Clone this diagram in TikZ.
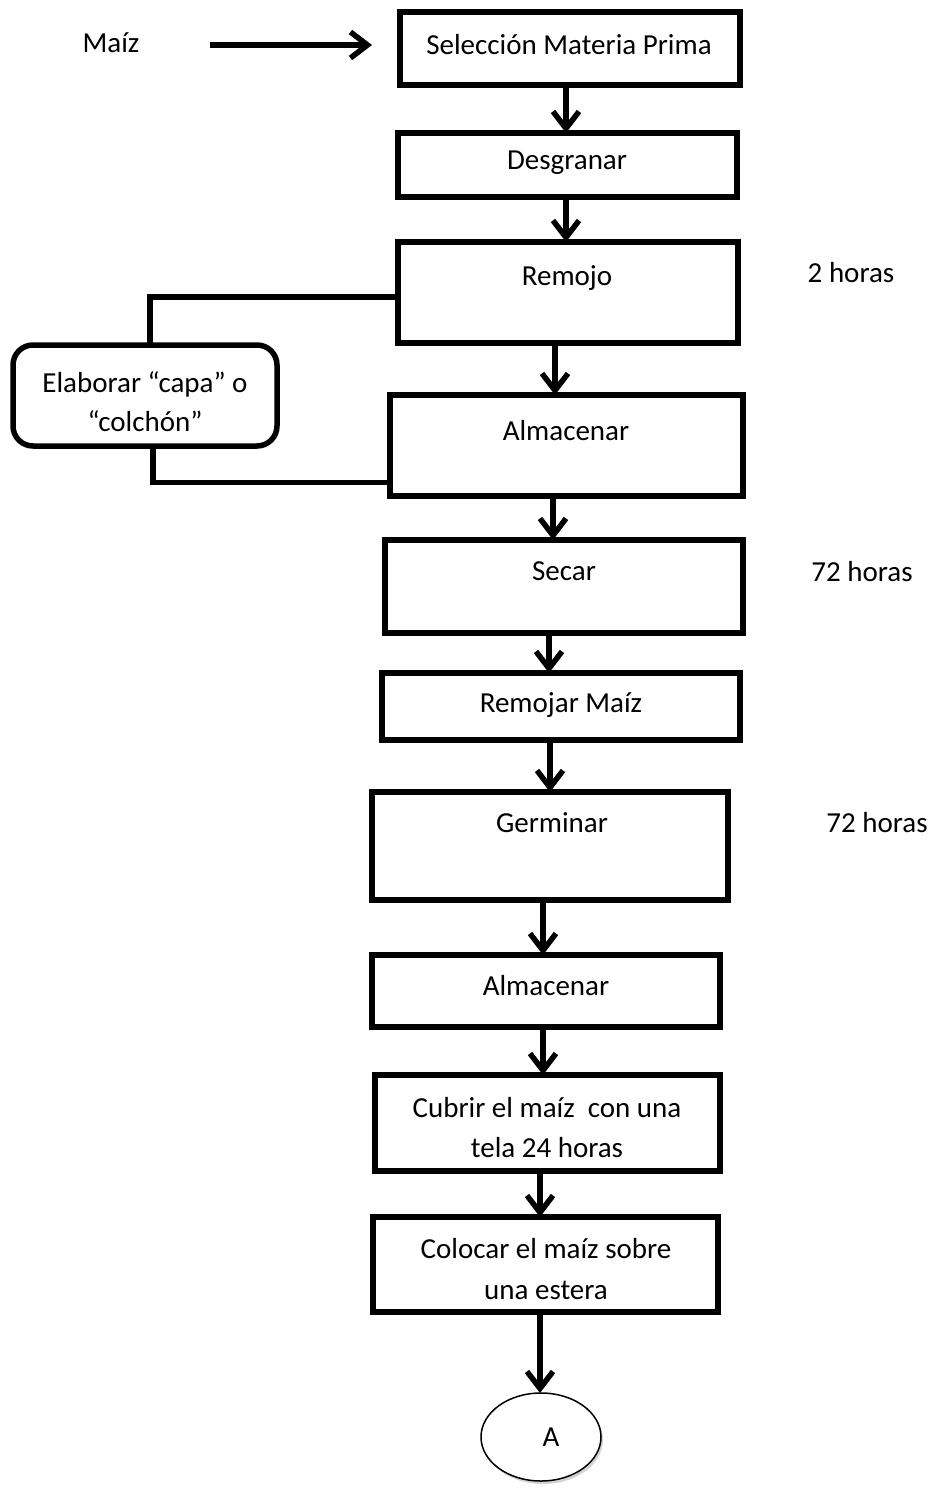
\documentclass[tikz,border=0pt]{standalone}
\usepackage{fontspec}
\setmainfont{Carlito}
\usetikzlibrary{arrows.meta,shapes.geometric,shadows}
\begin{document}
\begin{tikzpicture}[x=1pt,y=-1pt,
  every node/.style={font=\fontsize{29}{40}\selectfont, inner sep=0pt, outer sep=0pt},
  stepbox/.style={draw, line width=5.5pt, rectangle, anchor=north west},
  roundbox/.style={draw, line width=5.5pt, rectangle, rounded corners=20pt, anchor=north west},
  txt/.style={align=center},
  arr/.style={line width=5.5pt, -{Straight Barb[length=17pt,width=26pt,line width=5.5pt]}},
  link/.style={line width=5.5pt}
]
\useasboundingbox (0,0) rectangle (936,1488);

% process boxes (top-left corner, width, height)
\node[stepbox, minimum width=340, minimum height=73] (b1) at (400,12) {};
\node[stepbox, minimum width=339, minimum height=64] (b2) at (398,133) {};
\node[stepbox, minimum width=340, minimum height=101] (b3) at (398,242) {};
\node[stepbox, minimum width=353, minimum height=101] (b4) at (390,395) {};
\node[stepbox, minimum width=358, minimum height=93] (b5) at (385,540) {};
\node[stepbox, minimum width=358, minimum height=67] (b6) at (382,673) {};
\node[stepbox, minimum width=356, minimum height=108] (b7) at (372,792) {};
\node[stepbox, minimum width=348, minimum height=72] (b8) at (372,955) {};
\node[stepbox, minimum width=345, minimum height=96] (b9) at (375,1075) {};
\node[stepbox, minimum width=345, minimum height=95] (b10) at (373,1217) {};
\node[roundbox, minimum width=264, minimum height=101] (side) at (13,345) {};

% connector circle
\node[draw, ellipse, line width=1.5pt, fill=white, minimum width=120, minimum height=88,
      drop shadow={opacity=0.35, shadow xshift=2pt, shadow yshift=-3pt}] (end) at (541,1437) {};

% texts
\node (maiz) at (111,43) {Maíz};
\node[txt] (t1) at (569,45) {Selección Materia Prima};
\node[txt] (t2) at (567,163) {Desgranar};
\node[txt] (t3) at (567,278) {Remojo};
\node[txt] (t4) at (566,431) {Almacenar};
\node[txt] (t5) at (564,571) {Secar};
\node[txt] (t6) at (561,705) {Remojar Maíz};
\node[txt] (t7) at (552,823) {Germinar};
\node[txt] (t8) at (546,986) {Almacenar};
\node[txt] (t9a) at (547,1108) {Cubrir el maíz\ \ con una};
\node[txt] (t9b) at (547,1148) {tela 24 horas};
\node[txt] (t10a) at (546,1249) {Colocar el maíz sobre};
\node[txt] (t10b) at (546,1290) {una estera};
\node[txt] (tsa) at (145,384) {Elaborar “capa” o};
\node[txt] (tsb) at (145,421) {“colchón”};
\node (h1) at (851,273) {2 horas};
\node (h2) at (862,572) {72 horas};
\node (h3) at (877,823) {72 horas};
\node (tA) at (551,1437) {A};

% input arrow
\coordinate (in) at (210,45);
\draw[arr] (in) -- ([xshift=-28]b1.west |- in);

% main flow
\draw[arr] ([xshift=-4]b1.south) -- ([xshift=-1.5]b2.north);
\draw[arr] ([xshift=-1.5]b2.south) -- ([xshift=-2]b3.north);
\draw[arr] ([xshift=-13]b3.south) -- ([xshift=-11.5]b4.north);
\draw[arr] ([xshift=-13.5]b4.south) -- ([xshift=-11]b5.north);
\draw[arr] ([xshift=-15]b5.south) -- ([xshift=-12]b6.north);
\draw[arr] ([xshift=-11]b6.south) -- ([xshift=0]b7.north);
\draw[arr] ([xshift=-7]b7.south) -- ([xshift=-3]b8.north);
\draw[arr] ([xshift=-3]b8.south) -- ([xshift=-4.5]b9.north);
\draw[arr] ([xshift=-7.5]b9.south) -- ([xshift=-5.5]b10.north);
\draw[arr] ([xshift=-5.5]b10.south) -- ([xshift=-1]end.north);

% side branch
\draw[link] ([yshift=-4.5]b3.west) -| ([xshift=5]side.north);
\draw[link] ([xshift=8]side.south) |- ([yshift=-37]b4.west);
\end{tikzpicture}
\end{document}
